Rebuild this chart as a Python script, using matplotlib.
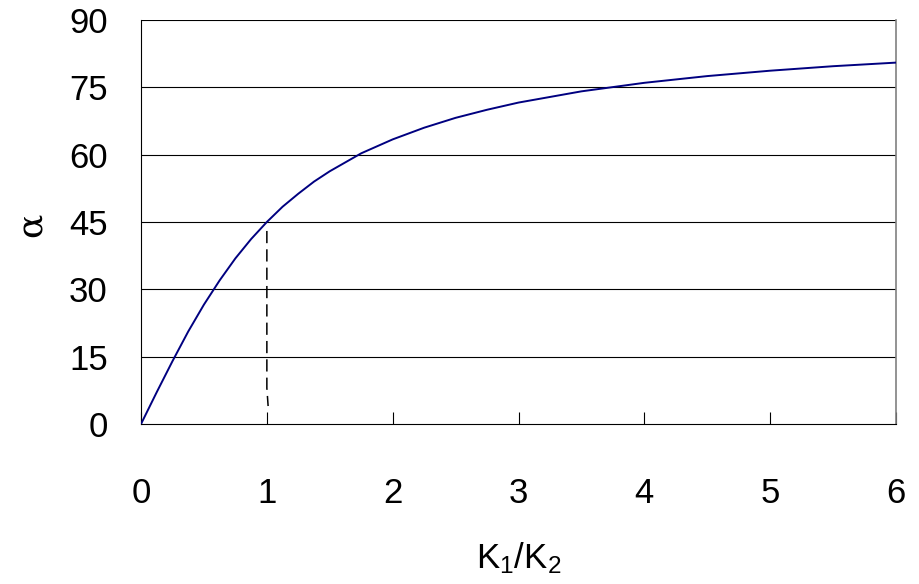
import matplotlib.pyplot as plt

# K1/K2 ratio vs alpha (degrees)
ratio = [0, 0.125, 0.25, 0.375, 0.5, 0.625, 0.75, 0.875, 1.0, 1.125, 1.25, 1.375, 1.5,
         1.75, 2.0, 2.25, 2.5, 2.75, 3.0, 3.5, 4.0, 4.5, 5.0, 5.5, 6.0]
alpha = [0, 7.1, 14.0, 20.6, 26.6, 32.0, 36.9, 41.2, 45.0, 48.4, 51.3, 54.0, 56.3,
         60.3, 63.4, 66.0, 68.2, 70.0, 71.6, 74.1, 76.0, 77.5, 78.7, 79.7, 80.5]

# dashed guide at K1/K2 = 1
guide_x = [1.0, 1.0, 1.01]
guide_y = [43.0, 8.0, 4.0]

xticks = [0, 1, 2, 3, 4, 5, 6]
yticks = [0, 15, 30, 45, 60, 75, 90]

plt.rcParams['font.family'] = ['Liberation Sans', 'DejaVu Sans']
plt.rcParams['mathtext.fontset'] = 'custom'
plt.rcParams['mathtext.rm'] = 'Liberation Sans'
plt.rcParams['mathtext.it'] = 'Liberation Sans'

fig = plt.figure(figsize=(9.2, 5.84), dpi=100)
ax = fig.add_axes([0.1533, 0.274, 0.8206, 0.6918])

for y in yticks[1:]:
    ax.axhline(y, color='black', lw=0.8, zorder=1)

ax.plot(ratio, alpha, color='#000080', lw=1.4, zorder=3)
ax.plot(guide_x, guide_y, color='black', lw=1.1, ls=(0, (8, 4)), zorder=2)

ax.set_xlim(0, 6)
ax.set_ylim(0, 90)
ax.set_xticks(xticks)
ax.set_yticks(yticks)
ax.tick_params(axis='x', direction='in', length=9, width=0.8, pad=38, labelsize=25)
ax.tick_params(axis='y', length=0, pad=24, labelsize=25)

ax.spines['top'].set_visible(False)
ax.spines['right'].set_color('gray')
ax.spines['right'].set_linewidth(1.2)
ax.spines['left'].set_linewidth(0.8)
ax.spines['bottom'].set_linewidth(0.8)

ax.set_xlabel(r'K$_1$/K$_2$', fontsize=25, labelpad=22)
fig.text(0.034, 0.615, 'α', family='DejaVu Serif', fontsize=26, rotation=90,
         ha='center', va='center')

fig.savefig('out.png', dpi=100)
